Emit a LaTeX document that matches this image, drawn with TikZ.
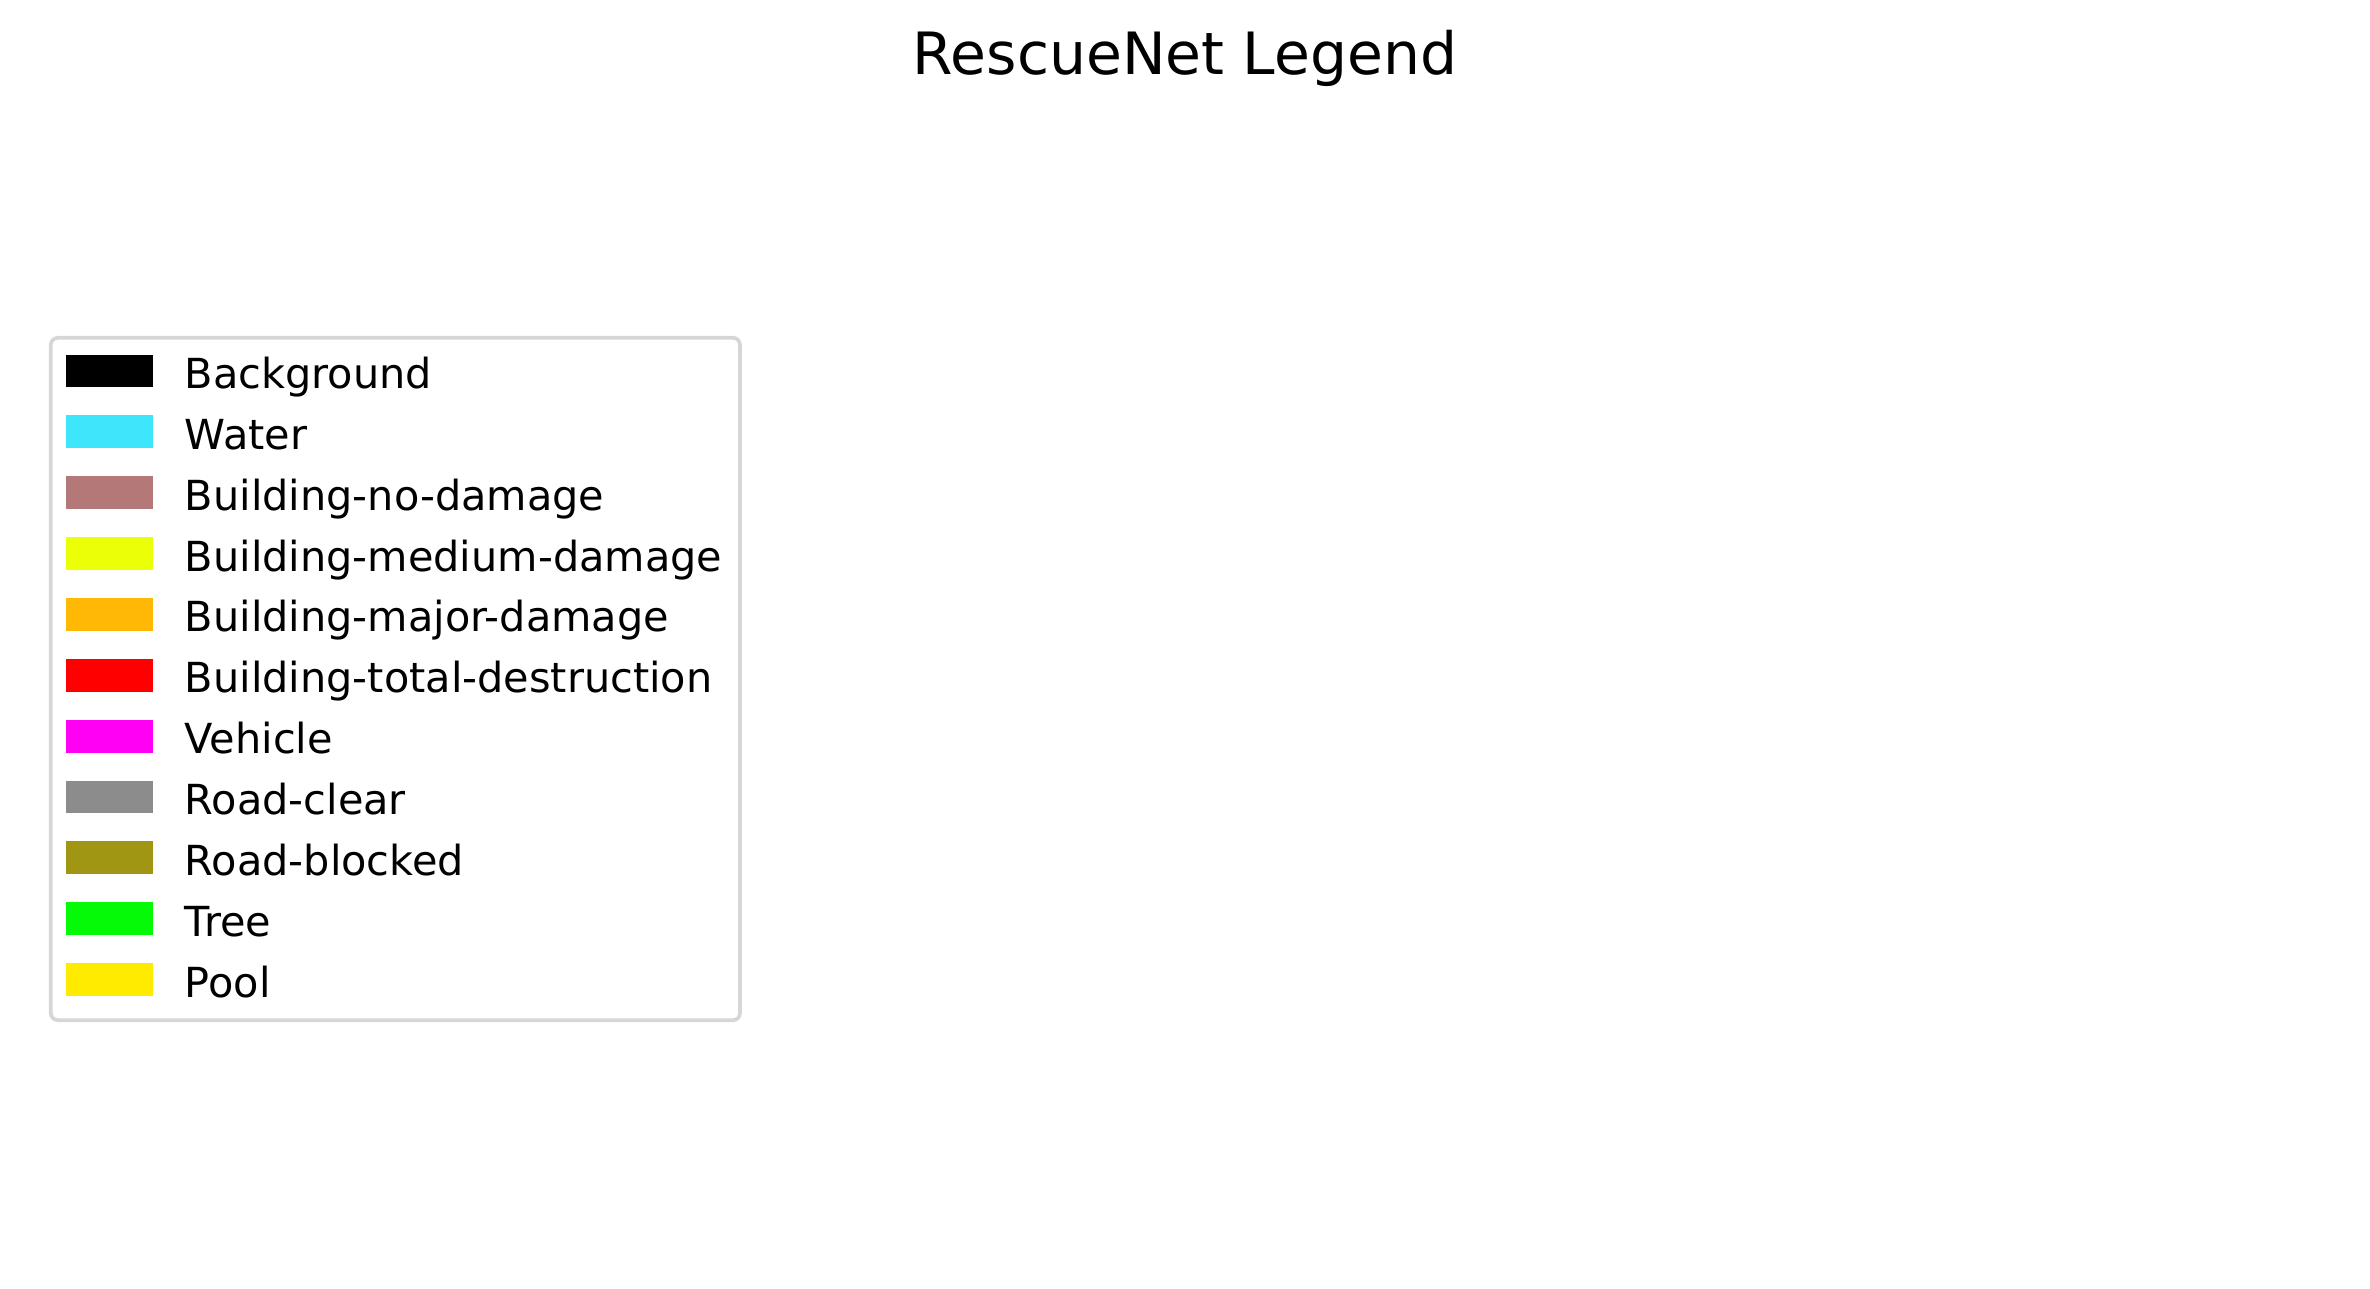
\documentclass[tikz,border=0pt]{standalone}
\usepackage{fontspec}
\setmainfont{DejaVu Sans}
\usepackage{tikz}
\usetikzlibrary{positioning}
\definecolor{bground}{RGB}{0,0,0}
\definecolor{water}{RGB}{61,230,250}
\definecolor{bldnone}{RGB}{180,120,120}
\definecolor{bldmedium}{RGB}{235,255,7}
\definecolor{bldmajor}{RGB}{255,184,6}
\definecolor{bldtotal}{RGB}{255,0,0}
\definecolor{vehicle}{RGB}{255,0,245}
\definecolor{roadclear}{RGB}{140,140,140}
\definecolor{roadblocked}{RGB}{160,150,20}
\definecolor{tree}{RGB}{4,250,7}
\definecolor{pool}{RGB}{255,235,0}
\definecolor{framegray}{HTML}{D6D6D6}

\begin{document}
\begin{tikzpicture}[
        x=0.24pt, y=-0.24pt,
        swatch/.style={rectangle, draw=none, inner sep=0pt,
        minimum width=21pt, minimum height=7.9pt},
        entrytext/.style={anchor=base west, inner sep=0pt,
        font=\fontsize{9.94pt}{12pt}\selectfont},
        legendframe/.style={draw=framegray, line width=0.9pt,
        rounded corners=1.7pt},
      ]
      \useasboundingbox (0,0) rectangle (2370,1289);

      % Title
      \node[anchor=base, inner sep=0pt, font=\fontsize{14pt}{17pt}\selectfont]
      (title) at (1185, 75) {RescueNet Legend};

      % Legend frame
      \draw[legendframe] (50.8, 337.8) rectangle (740, 1020.2);

      % Entries
      \node[swatch, fill=bground] (sw1) at (109.5, 371.0) {};
      \node[entrytext] (lab1) at (184, 388.5) {Background};

      \node[swatch, fill=water] (sw2) at (109.5, 431.9) {};
      \node[entrytext] (lab2) at (184, 449.4) {Water};

      \node[swatch, fill=bldnone] (sw3) at (109.5, 492.7) {};
      \node[entrytext] (lab3) at (184, 510.2) {Building-no-damage};

      \node[swatch, fill=bldmedium] (sw4) at (109.5, 553.6) {};
      \node[entrytext] (lab4) at (184, 571.1) {Building-medium-damage};

      \node[swatch, fill=bldmajor] (sw5) at (109.5, 614.4) {};
      \node[entrytext] (lab5) at (184, 631.9) {Building-major-damage};

      \node[swatch, fill=bldtotal] (sw6) at (109.5, 675.3) {};
      \node[entrytext] (lab6) at (184, 692.8) {Building-total-destruction};

      \node[swatch, fill=vehicle] (sw7) at (109.5, 736.1) {};
      \node[entrytext] (lab7) at (184, 753.6) {Vehicle};

      \node[swatch, fill=roadclear] (sw8) at (109.5, 797.0) {};
      \node[entrytext] (lab8) at (184, 814.5) {Road-clear};

      \node[swatch, fill=roadblocked] (sw9) at (109.5, 857.8) {};
      \node[entrytext] (lab9) at (184, 875.3) {Road-blocked};

      \node[swatch, fill=tree] (sw10) at (109.5, 918.7) {};
      \node[entrytext] (lab10) at (184, 936.2) {Tree};

      \node[swatch, fill=pool] (sw11) at (109.5, 979.5) {};
      \node[entrytext] (lab11) at (184, 997.0) {Pool};
    \end{tikzpicture}
\end{document}
